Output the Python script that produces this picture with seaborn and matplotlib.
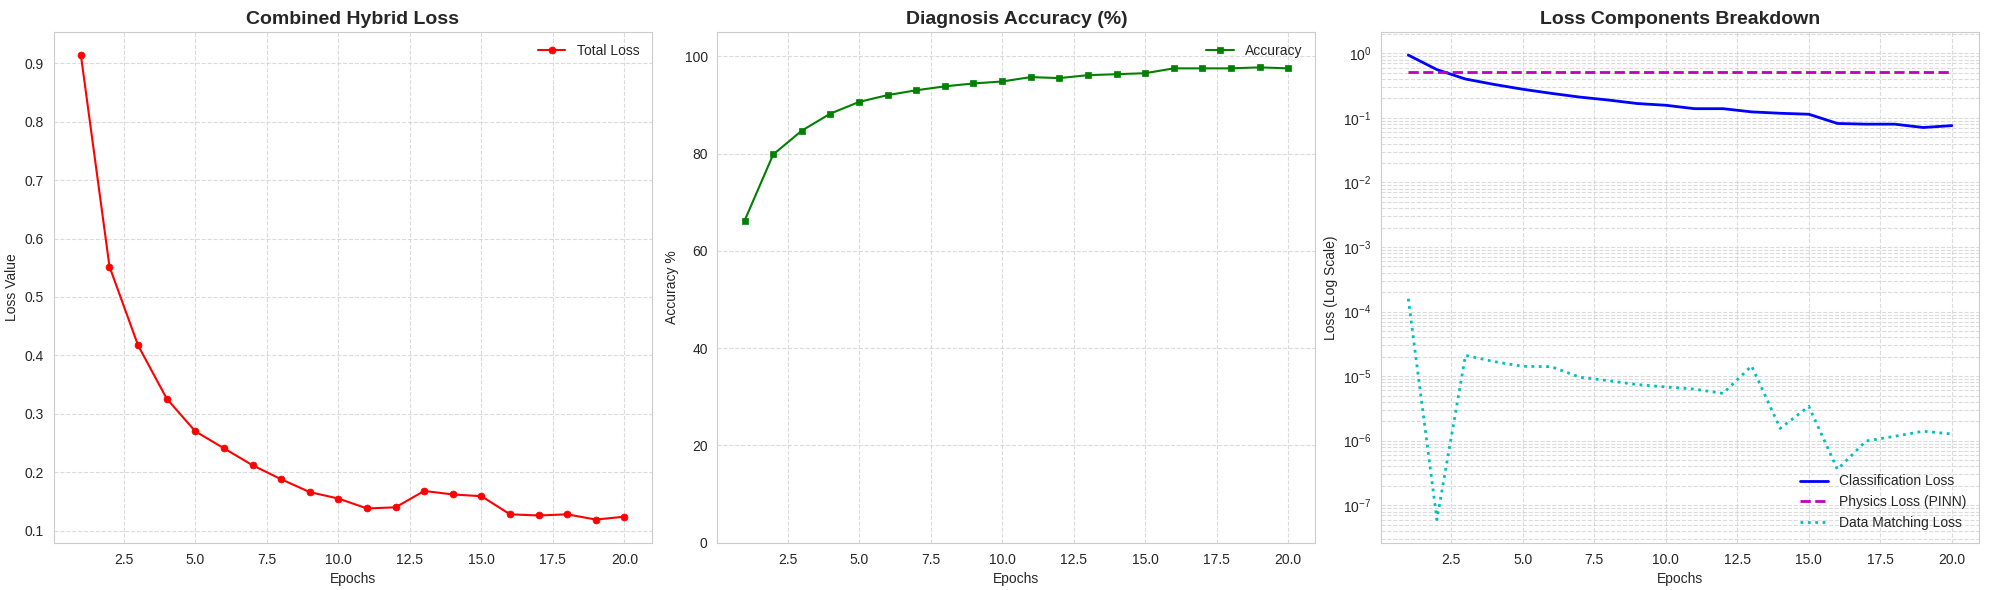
import numpy as np
import pandas as pd
import matplotlib
matplotlib.use("Agg")
import matplotlib.pyplot as plt
import seaborn as sns

# values
epochs = list(range(1, 21))
total_loss = [0.914, 0.552, 0.417, 0.326, 0.270, 0.241, 0.212, 0.188, 0.166, 0.155,
              0.138, 0.140, 0.168, 0.162, 0.159, 0.128, 0.126, 0.128, 0.119, 0.124]
accuracy = [66.2, 79.8, 84.7, 88.2, 90.6, 92.0, 93.0, 93.8, 94.4, 94.8,
            95.7, 95.5, 96.1, 96.3, 96.5, 97.5, 97.5, 97.5, 97.7, 97.5]
class_loss = [0.94, 0.56, 0.40, 0.33, 0.278, 0.240, 0.210, 0.189, 0.167, 0.157,
              0.139, 0.139, 0.124, 0.118, 0.114, 0.082, 0.080, 0.080, 0.071, 0.076]
physics_loss = [0.52] * 20
data_loss = [1.58e-4, 6.0e-8, 2.1e-5, 1.68e-5, 1.42e-5, 1.40e-5, 9.6e-6, 8.5e-6, 7.4e-6, 6.8e-6,
             6.3e-6, 5.4e-6, 1.44e-5, 1.55e-6, 3.4e-6, 3.6e-7, 9.9e-7, 1.17e-6, 1.40e-6, 1.27e-6]

df = pd.DataFrame({"Epoch": epochs, "Total": total_loss, "Acc": accuracy,
                   "Cls": class_loss, "Phys": physics_loss, "Data": data_loss})

sns.set_style("whitegrid")
plt.rcParams['font.family'] = ['Liberation Sans', 'DejaVu Sans']
plt.rcParams['axes.edgecolor'] = '#cccccc'

f, axes = plt.subplots(1, 3, figsize=(19.89, 5.9), dpi=100)

# combined loss
ax = axes[0]
sns.lineplot(data=df, x="Epoch", y="Total", ax=ax, color='red', marker='o',
             markersize=5, markeredgecolor='red', markeredgewidth=0.5,
             linewidth=1.5, label='Total Loss')
ax.set_title('Combined Hybrid Loss', fontsize=14, fontweight='bold')
ax.set_xlabel('Epochs')
ax.set_ylabel('Loss Value')
ax.grid(True, linestyle='--', alpha=0.7)
ax.legend(loc='upper right', frameon=False)

# accuracy
ax = axes[1]
sns.lineplot(data=df, x="Epoch", y="Acc", ax=ax, color='green', marker='s',
             markersize=5, markeredgecolor='green', markeredgewidth=0.5,
             linewidth=1.5, label='Accuracy')
ax.set_title('Diagnosis Accuracy (%)', fontsize=14, fontweight='bold')
ax.set_xlabel('Epochs')
ax.set_ylabel('Accuracy %')
ax.set_ylim(0, 105)
ax.grid(True, linestyle='--', alpha=0.7)
ax.legend(loc='upper right', frameon=False)

# loss components
ax = axes[2]
sns.lineplot(data=df, x="Epoch", y="Cls", ax=ax, color='b', linestyle='-',
             linewidth=2, label='Classification Loss')
sns.lineplot(data=df, x="Epoch", y="Phys", ax=ax, color='m', linestyle='--',
             linewidth=2, label='Physics Loss (PINN)')
sns.lineplot(data=df, x="Epoch", y="Data", ax=ax, color='c', linestyle=':',
             linewidth=2, label='Data Matching Loss')
ax.set_yscale('log')
ax.set_title('Loss Components Breakdown', fontsize=14, fontweight='bold')
ax.set_xlabel('Epochs')
ax.set_ylabel('Loss (Log Scale)')
ax.grid(True, which='both', linestyle='--', alpha=0.7)
ax.legend(loc='lower right', frameon=False)

for a in axes:
    for s in a.spines.values():
        s.set_color('#cccccc')

plt.subplots_adjust(left=0.027, right=0.995, top=0.946, bottom=0.080, wspace=0.11)
f.savefig("out.png", dpi=100)
